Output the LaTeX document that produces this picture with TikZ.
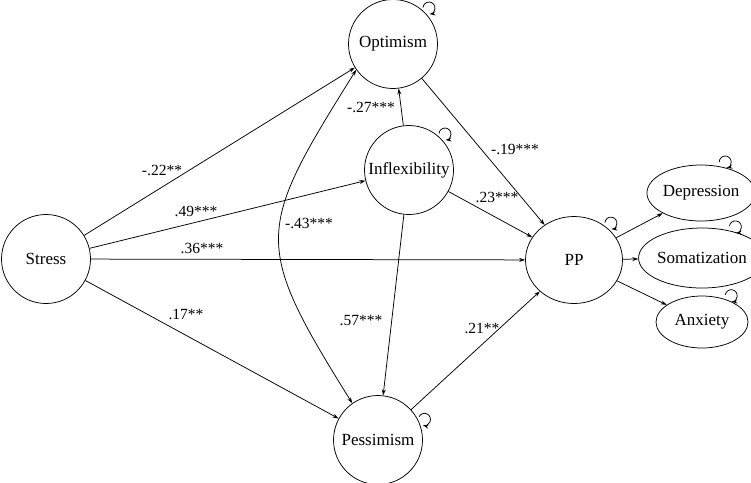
\documentclass[tikz,border=0pt]{standalone}
\usepackage{fontspec}
\setmainfont{Liberation Serif}
\usetikzlibrary{arrows.meta,calc,shapes.geometric}

% small self loop on the border of a node: node, angle
\newcommand{\selfloop}[2]{%
  \draw[arr] ($(#1.#2)+(#2:6pt)+(#2+130:6pt)$) arc[start angle=#2+130, end angle=#2-130, radius=6pt];}

\begin{document}
\begin{tikzpicture}[x=1pt,y=1pt,line width=0.75pt,font=\fontsize{15.5}{18}\selectfont,
    latent/.style={draw,circle,minimum size=89pt,inner sep=0,font=\fontsize{17}{20}\selectfont},
    manifest/.style={draw,ellipse,inner sep=0,font=\fontsize{17}{20}\selectfont},
    arr/.style={-{Stealth[length=6pt,width=4pt]}},
    coef/.style={inner sep=1pt}]
  \useasboundingbox (0,0) rectangle (751,-482);
        \node[latent] (stress) at (46,-259) {Stress};
        \node[latent] (opt) at (393,-44) {Optimism};
        \node[latent] (inf) at (409,-170) {Inflexibility};
        \node[latent] (pes) at (378,-440) {Pessimism};
        \node[manifest,minimum width=97pt,minimum height=87pt] (pp) at (574,-260) {PP};
        \node[manifest,minimum width=95pt,minimum height=56pt] (dep) at (701,-193) {Depression};
        \node[manifest,minimum width=94pt,minimum height=60pt] (som) at (702,-258) {Somatization};
        \node[manifest,minimum width=92pt,minimum height=52pt] (anx) at (702,-322) {Anxiety};
        \draw[arr] (stress) -- (opt);
        \draw[arr] (stress) -- (inf);
        \draw[arr] (stress) -- (pp);
        \draw[arr] (stress) -- (pes);
        \draw[arr] (inf) -- (opt);
        \draw[arr] (inf) -- (pes);
        \draw[arr] (opt) -- (pp);
        \draw[arr] (inf) -- (pp);
        \draw[arr] (pes) -- (pp);
        \draw[arr] (pp) -- (dep);
        \draw[arr] (pp) -- (som);
        \draw[arr] (pp) -- (anx);
        \draw[{Stealth[length=6pt,width=4pt]}-{Stealth[length=6pt,width=4pt]}] (opt.215) to[out=238,in=122,looseness=1.45] (pes.125);
        \node[coef] (c1) at (162,-170) {-.22**};
        \node[coef] (c2) at (196,-211) {.49***};
        \node[coef] (c3) at (202,-248) {.36***};
        \node[coef] (c4) at (186,-314) {.17**};
        \node[coef] (c5) at (371,-107) {-.27***};
        \node[coef] (c6) at (309,-223) {-.43***};
        \node[coef] (c7) at (515,-149) {-.19***};
        \node[coef] (c8) at (497,-197) {.23***};
        \node[coef] (c9) at (361,-321) {.57***};
        \node[coef] (c10) at (482,-328) {.21**};
        \selfloop{opt}{45}
        \selfloop{inf}{45}
        \selfloop{pp}{45}
        \selfloop{pes}{24}
        \selfloop{dep}{52}
        \selfloop{som}{43}
        \selfloop{anx}{42}
      \end{tikzpicture}
\end{document}
